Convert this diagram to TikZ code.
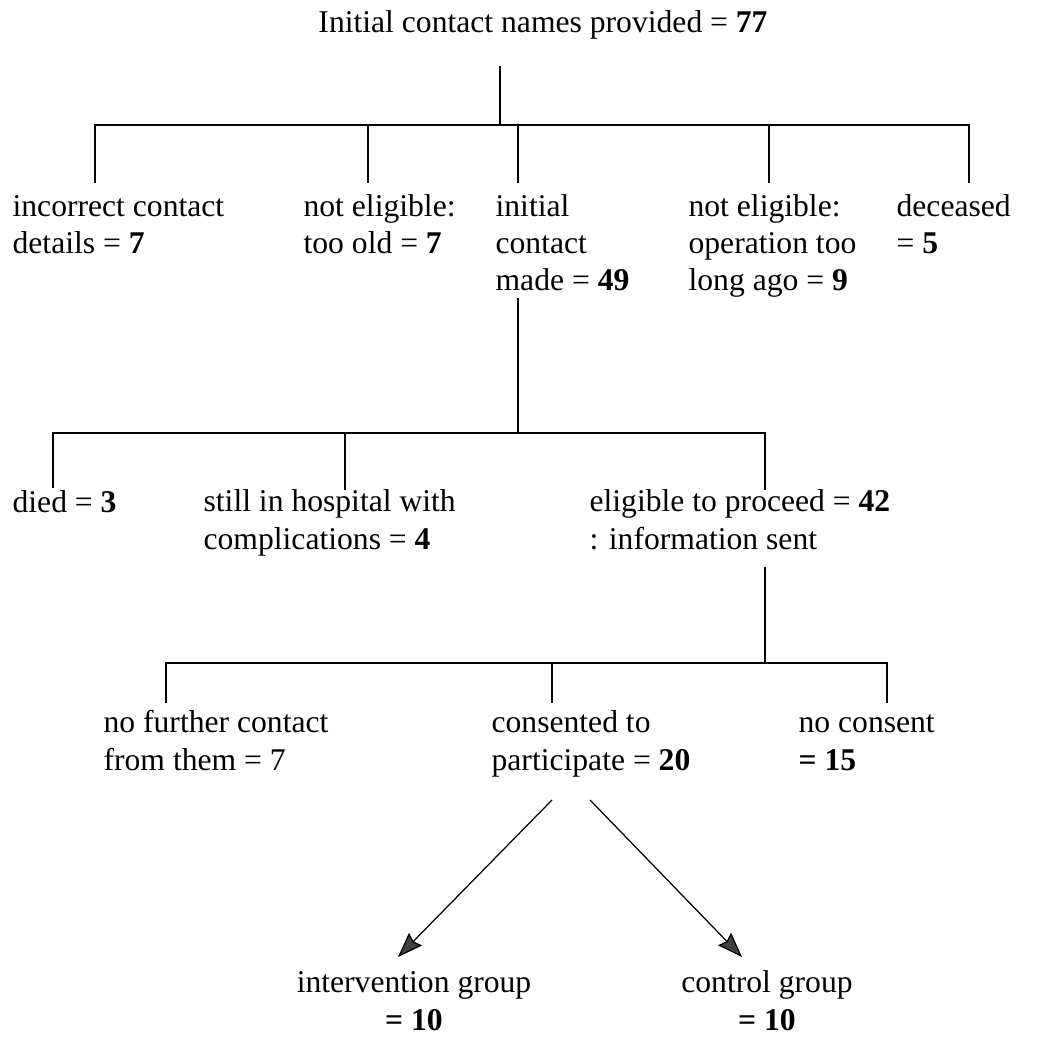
\documentclass[tikz,border=0pt]{standalone}
\usepackage{fontspec}
\setmainfont{Liberation Serif}
\usetikzlibrary{arrows.meta}
\tikzset{
  entry/.style={anchor=base west,inner sep=0pt,align=left,font=\fontsize{18}{21.3}\selectfont},
  group/.style={entry,anchor=base,align=center},
  feed/.style={-{Stealth[length=0.5cm,width=0.36cm,inset=0.06cm,fill=black!75]}}
}

\begin{document}
\begin{tikzpicture}[x=0.02cm,y=-0.02cm,line width=0.7pt]
  \useasboundingbox (0,0) rectangle (1038,1037);
  % top (multi-line nodes sit on their last baseline)
  \node[entry,anchor=base] (total) at (543,33) {Initial contact names provided = \textbf{77}};
  % first split
  \node[entry] (incorrect) at (12,253.5) {incorrect contact\\details = \textbf{7}};
  \node[entry] (old) at (303,253.5) {not eligible:\\too old = \textbf{7}};
  \node[entry] (made) at (495,291) {initial\\contact\\made = \textbf{49}};
  \node[entry] (ago) at (688,291) {not eligible:\\operation too\\long ago = \textbf{9}};
  \node[entry] (deceased) at (896,253.5) {deceased\\= \textbf{5}};
  \coordinate (t1) at (500,66);
  \coordinate (b1) at (500,125);
  \coordinate (a1) at (95,183);
  \coordinate (a2) at (368,183);
  \coordinate (a3) at (518,183);
  \coordinate (a4) at (769,183);
  \coordinate (a5) at (969,183);
  \draw (t1) -- (b1);
  \draw (a1) |- (b1) -| (a5);
  \draw (a2) -- (a2 |- b1);
  \draw (a3) -- (a3 |- b1);
  \draw (a4) -- (a4 |- b1);
  % second split
  \node[entry] (died) at (12,512) {died = \textbf{3}};
  \node[entry] (hospital) at (203,549) {still in hospital with\\complications = \textbf{4}};
  \node[entry] (proceed) at (589,549) {eligible to proceed = \textbf{42}\\: information sent};
  \coordinate (t2) at (518,298);
  \coordinate (b2) at (518,433);
  \coordinate (c1) at (53,488);
  \coordinate (c2) at (345,490);
  \coordinate (c3) at (765,490);
  \draw (t2) -- (b2);
  \draw (c1) |- (b2) -| (c3);
  \draw (c2) -- (c2 |- b2);
  % third split
  \node[entry] (nocontact) at (103,770) {no further contact\\from them = 7};
  \node[entry] (consented) at (491,770) {consented to\\participate = \textbf{20}};
  \node[entry] (noconsent) at (798,770) {no consent\\\textbf{= 15}};
  \coordinate (t3) at (765,567);
  \coordinate (b3) at (765,663);
  \coordinate (e1) at (166,703);
  \coordinate (e2) at (552,703);
  \coordinate (e3) at (887,703);
  \draw (t3) -- (b3);
  \draw (e1) |- (b3) -| (e3);
  \draw (e2) -- (e2 |- b3);
  % groups
  \node[group] (intervention) at (414,1030) {intervention group\\\textbf{= 10}};
  \node[group] (control) at (767,1030) {control group\\\textbf{= 10}};
  \coordinate (s1) at (552,800);
  \coordinate (s2) at (590,800);
  \coordinate (g1) at (398,957);
  \coordinate (g2) at (742,957);
  \draw[feed] (s1) -- (g1);
  \draw[feed] (s2) -- (g2);
\end{tikzpicture}
\end{document}
